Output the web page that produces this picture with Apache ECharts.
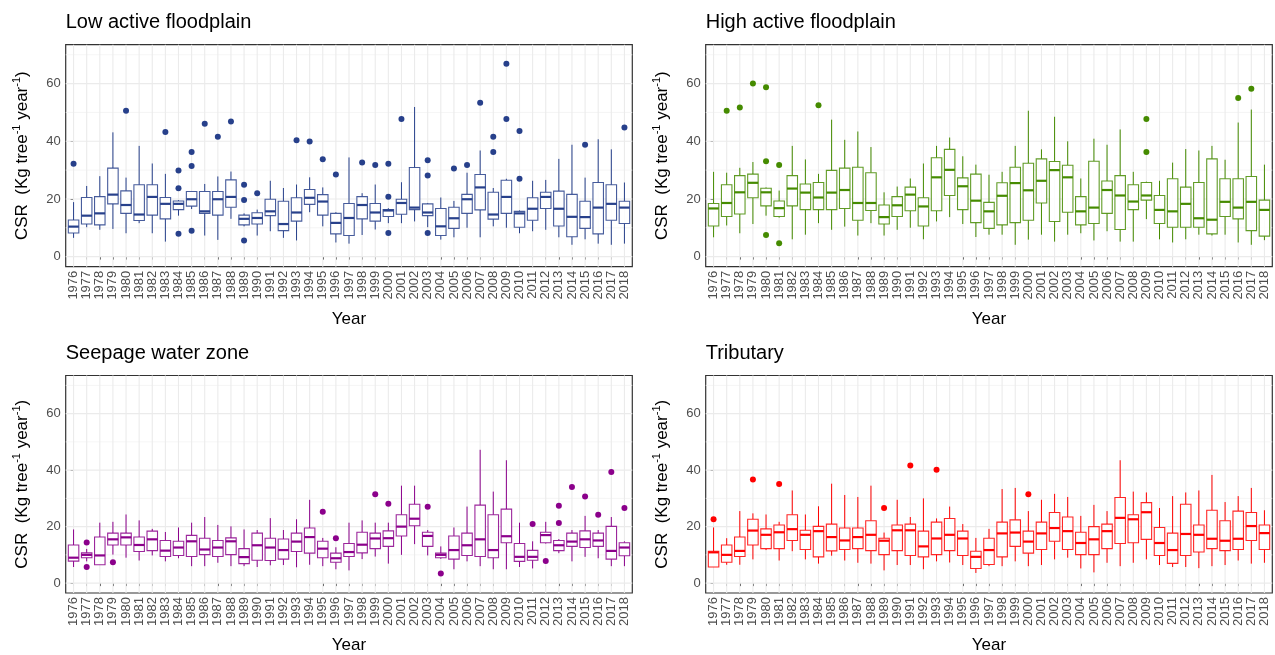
<!DOCTYPE html>
<html>
<head>
<meta charset="utf-8">
<script src="https://cdn.jsdelivr.net/npm/echarts@6/dist/echarts.min.js"></script>
<style>
  html, body { margin: 0; padding: 0; background: #ffffff; }
  #chart { width: 1275px; height: 655px; }
</style>
</head>
<body>
<div id="chart"></div>
<script>
// Survey years shown on every x axis
const years = ['1976','1977','1978','1979','1980','1981','1982','1983','1984','1985',
  '1986','1987','1988','1989','1990','1991','1992','1993','1994','1995',
  '1996','1997','1998','1999','2000','2001','2002','2003','2004','2005',
  '2006','2007','2008','2009','2010','2011','2012','2013','2014','2015',
  '2016','2017','2018'];

// y axis ticks (labelled) and minor grid values
const yMajor = [0, 20, 40, 60];
const yMinor = [10, 30, 50, 70];

// Box statistics per year: [lower whisker, Q1, median, Q3, upper whisker]
const lowActiveBoxes = [
  [6.5, 8.2, 10.4, 12.7, 18.9], [10.2, 11.3, 14.2, 20.5, 24.5], [9.3, 11.0, 15.0, 20.8, 27.9],
  [9.6, 18.3, 21.5, 30.7, 43.1], [8.1, 15.0, 17.9, 22.8, 27.4], [11.6, 12.5, 14.6, 24.9, 38.4],
  [8.1, 14.4, 20.7, 24.9, 32.3], [5.2, 13.1, 18.3, 20.5, 28.7], [14.2, 16.3, 18.3, 19.3, 19.6],
  [16.5, 17.5, 19.9, 22.6, 22.6], [7.3, 15.0, 15.7, 22.6, 25.2], [5.8, 14.4, 19.9, 22.6, 27.8],
  [13.1, 17.1, 20.7, 26.6, 29.5], [10.5, 11.0, 13.1, 14.4, 15.0], [7.3, 11.3, 13.4, 15.2, 16.3],
  [8.8, 14.2, 15.7, 19.9, 26.3], [6.5, 9.0, 11.3, 19.2, 23.8], [5.6, 12.3, 15.3, 20.4, 25.0],
  [15.4, 18.1, 20.4, 23.3, 27.5], [10.5, 14.4, 19.1, 21.5, 24.0], [4.9, 7.9, 11.7, 15.0, 15.4],
  [4.5, 7.3, 13.4, 18.4, 34.4], [7.5, 13.1, 17.9, 20.8, 22.0], [9.4, 12.3, 15.3, 18.4, 25.0],
  [11.6, 13.9, 16.0, 16.3, 16.8], [11.6, 14.7, 18.6, 19.9, 25.8], [12.2, 16.3, 17.0, 30.9, 51.9],
  [10.2, 14.2, 15.3, 18.3, 18.6], [5.9, 7.3, 10.5, 16.7, 20.5], [6.7, 9.8, 13.3, 17.1, 19.3],
  [10.0, 15.0, 19.9, 21.6, 29.1], [6.7, 16.2, 24.0, 28.5, 36.8], [10.5, 13.0, 14.6, 22.3, 23.8],
  [10.0, 15.0, 20.7, 26.5, 27.0], [8.1, 10.2, 15.0, 15.7, 16.0], [8.8, 12.6, 16.6, 20.4, 26.3],
  [9.3, 16.7, 20.7, 22.3, 26.6], [6.7, 10.6, 16.6, 22.7, 33.9], [4.1, 6.9, 13.8, 21.6, 38.8],
  [6.0, 9.8, 13.7, 19.2, 27.4], [4.5, 7.9, 17.0, 25.7, 40.7], [4.1, 12.6, 18.3, 24.9, 37.2],
  [4.5, 11.5, 17.0, 19.2, 25.7]
];
// Outliers: [year, value]
const lowActiveOutliers = [
  [1976, 32.2], [1980, 50.6], [1983, 43.2], [1984, 29.9], [1984, 23.7], [1984, 7.9],
  [1985, 36.3], [1985, 31.4], [1985, 9.0], [1986, 46.1], [1987, 41.6], [1988, 46.9],
  [1989, 24.9], [1989, 19.6], [1989, 5.6], [1990, 22.0], [1993, 40.4], [1994, 39.9],
  [1995, 33.8], [1996, 28.5], [1998, 32.6], [1999, 31.8], [2000, 32.2], [2000, 20.8],
  [2000, 8.2], [2001, 47.7], [2003, 33.4], [2003, 28.1], [2003, 8.2], [2005, 30.6],
  [2006, 31.8], [2007, 53.4], [2008, 41.6], [2008, 36.3], [2009, 66.9], [2009, 47.7],
  [2010, 43.6], [2010, 27.0], [2015, 38.8], [2018, 44.8]
];

const highActiveBoxes = [
  [6.7, 10.6, 16.7, 18.4, 29.4], [10.8, 13.9, 18.6, 24.9, 29.1], [8.1, 14.8, 22.3, 28.1, 30.8],
  [11.3, 20.4, 25.6, 28.6, 32.8], [14.2, 17.6, 22.3, 23.7, 24.0], [13.5, 13.9, 16.8, 19.3, 22.9],
  [6.0, 17.6, 23.6, 28.1, 38.4], [7.6, 16.3, 22.2, 25.2, 33.7], [11.6, 16.3, 20.5, 25.7, 28.7],
  [9.3, 16.3, 22.2, 29.9, 47.5], [10.4, 16.7, 23.1, 30.7, 40.5], [7.3, 12.6, 18.6, 31.0, 43.4],
  [11.6, 16.0, 18.6, 29.1, 38.0], [7.3, 11.3, 13.7, 17.9, 22.3], [9.3, 13.9, 17.8, 20.8, 24.3],
  [10.0, 15.9, 21.5, 24.1, 27.1], [6.0, 10.6, 17.4, 20.4, 32.3], [12.2, 15.9, 27.5, 34.3, 38.4],
  [13.7, 21.2, 30.1, 37.2, 41.3], [11.3, 16.3, 24.4, 27.3, 34.8], [6.8, 11.8, 19.4, 28.6, 31.9],
  [7.6, 9.8, 15.7, 18.8, 28.4], [7.6, 11.0, 21.1, 25.6, 29.4], [4.1, 11.8, 25.5, 31.0, 38.4],
  [5.9, 12.6, 23.0, 32.4, 50.6], [7.6, 18.6, 26.3, 33.9, 37.2], [5.2, 12.2, 30.0, 33.0, 48.5],
  [7.6, 15.4, 27.5, 31.7, 40.0], [8.1, 11.0, 15.7, 20.8, 27.1], [5.6, 11.5, 17.0, 33.1, 40.9],
  [8.8, 15.0, 23.1, 26.2, 38.8], [5.2, 9.4, 21.2, 28.1, 44.1], [5.2, 16.3, 19.1, 24.9, 29.4],
  [13.0, 19.6, 21.2, 25.7, 26.0], [6.0, 11.5, 16.2, 21.2, 26.3], [4.9, 10.2, 15.7, 27.0, 32.6],
  [6.0, 10.2, 18.3, 24.1, 37.3], [7.6, 10.2, 13.3, 25.7, 36.8], [7.3, 7.9, 12.8, 33.9, 38.4],
  [7.6, 13.9, 19.0, 27.0, 33.6], [4.9, 13.1, 17.0, 27.0, 46.5], [4.1, 9.0, 19.0, 27.8, 51.0],
  [5.7, 7.1, 16.2, 19.6, 31.9]
];
const highActiveOutliers = [
  [1977, 50.6], [1978, 51.7], [1979, 60.0], [1980, 58.7], [1980, 33.1], [1980, 7.5],
  [1981, 31.8], [1981, 4.6], [1984, 52.5], [2009, 47.7], [2009, 36.3], [2016, 55.0],
  [2017, 58.2]
];

const seepageBoxes = [
  [5.7, 7.8, 9.0, 13.5, 19.0], [7.7, 9.0, 10.0, 10.7, 12.1], [6.5, 6.5, 9.8, 16.3, 21.4],
  [10.1, 13.5, 15.5, 17.7, 21.7], [9.0, 13.5, 16.2, 17.7, 24.3], [8.0, 11.2, 13.5, 16.3, 22.2],
  [9.8, 11.5, 15.5, 18.4, 19.2], [7.7, 9.4, 11.5, 15.1, 18.1], [8.8, 9.8, 12.6, 14.8, 19.7],
  [6.0, 9.4, 14.8, 16.9, 21.4], [6.0, 10.1, 11.9, 15.9, 23.4], [7.2, 9.4, 12.6, 15.1, 20.6],
  [6.0, 10.1, 14.8, 16.0, 20.1], [6.0, 6.9, 9.2, 12.2, 19.0], [5.7, 8.1, 13.4, 17.7, 18.8],
  [6.3, 8.0, 12.6, 15.9, 23.0], [6.4, 8.5, 11.7, 15.6, 18.8], [5.6, 11.2, 14.7, 17.7, 22.6],
  [6.5, 10.6, 16.3, 19.5, 29.5], [6.0, 9.0, 12.2, 14.8, 16.0], [4.9, 7.4, 8.8, 10.6, 12.7],
  [4.5, 9.4, 11.0, 14.0, 21.4], [8.5, 10.7, 13.6, 18.0, 22.2], [9.4, 12.2, 15.8, 17.7, 21.4],
  [6.9, 13.0, 15.9, 18.5, 21.4], [10.0, 16.7, 20.0, 24.2, 34.5], [13.8, 20.3, 22.8, 27.9, 34.5],
  [9.8, 13.0, 16.7, 18.0, 18.8], [8.6, 9.0, 10.0, 10.6, 13.0], [4.9, 8.5, 11.7, 16.7, 19.7],
  [7.7, 9.8, 13.4, 17.7, 27.1], [6.0, 9.4, 15.5, 27.6, 47.2], [4.9, 9.0, 11.7, 24.2, 32.4],
  [4.9, 14.3, 16.6, 26.2, 43.5], [5.7, 7.7, 9.3, 14.0, 21.4], [5.2, 8.1, 9.3, 11.6, 14.8],
  [14.0, 14.3, 17.0, 18.0, 21.7], [10.6, 11.5, 13.4, 15.1, 15.6], [7.7, 13.0, 14.7, 17.7, 18.8],
  [9.3, 12.6, 15.5, 18.5, 23.8], [8.8, 13.0, 15.1, 17.7, 18.8], [6.0, 8.5, 11.4, 20.1, 23.4],
  [6.0, 9.7, 12.6, 14.3, 14.8]
];
const seepageOutliers = [
  [1977, 14.4], [1977, 5.7], [1979, 7.4], [1995, 25.3], [1996, 15.9], [1999, 31.5],
  [2000, 28.1], [2003, 27.0], [2004, 3.4], [2011, 20.9], [2012, 7.8], [2013, 27.4],
  [2013, 21.3], [2014, 34.0], [2015, 30.7], [2016, 24.2], [2017, 39.3], [2018, 26.6]
];

const tributaryBoxes = [
  [5.7, 5.7, 10.9, 11.3, 19.7], [6.5, 7.4, 10.0, 13.5, 15.9], [6.5, 9.4, 11.4, 16.3, 25.5],
  [8.4, 13.5, 18.6, 22.6, 24.7], [11.7, 12.2, 17.1, 19.2, 24.3], [8.0, 12.2, 18.0, 20.6, 21.7],
  [11.3, 15.1, 19.1, 24.2, 32.8], [8.4, 11.9, 17.1, 18.7, 24.3], [6.9, 9.3, 18.4, 20.1, 27.2],
  [9.7, 11.4, 16.3, 20.9, 35.2], [8.0, 11.9, 15.1, 19.5, 31.2], [7.2, 12.2, 16.3, 19.5, 30.5],
  [6.9, 11.5, 17.1, 22.1, 34.5], [4.5, 10.1, 15.0, 15.9, 17.9], [6.4, 11.5, 18.7, 20.6, 29.5],
  [6.4, 9.8, 18.7, 20.9, 23.4], [4.9, 9.3, 13.0, 18.4, 30.0], [7.7, 10.1, 15.8, 21.6, 22.9],
  [7.3, 11.5, 17.1, 22.9, 27.1], [6.4, 9.8, 15.8, 18.4, 20.9], [3.6, 5.2, 9.3, 11.3, 16.0],
  [6.0, 6.6, 11.7, 15.9, 19.2], [6.0, 9.3, 17.6, 21.6, 33.3], [7.7, 13.0, 17.9, 22.4, 33.7],
  [6.0, 10.6, 14.7, 18.4, 25.5], [6.4, 11.9, 17.6, 21.6, 29.5], [8.4, 14.8, 19.5, 25.0, 31.6],
  [9.0, 11.9, 18.4, 23.4, 30.5], [5.2, 10.1, 14.2, 18.0, 23.8], [3.8, 10.1, 15.5, 20.0, 27.7],
  [7.2, 12.2, 18.4, 20.9, 25.5], [6.0, 14.0, 23.1, 30.3, 43.5], [7.2, 14.3, 22.6, 24.2, 32.4],
  [8.4, 15.5, 25.1, 28.5, 32.1], [6.4, 9.8, 14.2, 19.7, 26.6], [5.7, 7.0, 11.7, 17.7, 30.8],
  [5.7, 9.8, 17.4, 27.9, 32.1], [5.3, 11.0, 17.1, 20.6, 32.8], [6.0, 12.2, 15.7, 25.8, 38.3],
  [6.4, 11.5, 15.0, 22.1, 28.7], [8.0, 11.9, 15.7, 25.5, 30.8], [6.9, 15.1, 20.2, 25.0, 33.7],
  [7.2, 11.9, 17.7, 20.6, 25.8]
];
const tributaryOutliers = [
  [1976, 22.6], [1979, 36.7], [1981, 35.1], [1989, 26.6], [1991, 41.6], [1993, 40.1],
  [2000, 31.5]
];

// Panel layout: one facet per zone
const panels = [
  { title: 'Low active floodplain', boxes: lowActiveBoxes, outliers: lowActiveOutliers, color: '#27408B', left: 65.7, top: 44.7 },
  { title: 'High active floodplain', boxes: highActiveBoxes, outliers: highActiveOutliers, color: '#458B00', left: 705.7, top: 44.7 },
  { title: 'Seepage water zone', boxes: seepageBoxes, outliers: seepageOutliers, color: '#8B008B', left: 65.7, top: 375.5 },
  { title: 'Tributary', boxes: tributaryBoxes, outliers: tributaryOutliers, color: '#FF0000', left: 705.7, top: 375.5 }
];

const PANEL_W = 566.6;
const PANEL_H = 222;
const FONT = 'Arial, "Liberation Sans", Helvetica, sans-serif';
const yearIdx = years.map((y, i) => i);

// Background grid: horizontal major/minor lines and a vertical line per year
function renderGrid(params, api) {
  const cs = params.coordSys;
  const kind = api.value(2);
  if (kind === 2) {
    const x = api.coord([api.value(0), 0])[0];
    return { type: 'line', silent: true,
      shape: { x1: x, y1: cs.y, x2: x, y2: cs.y + cs.height },
      style: { stroke: '#EBEBEB', lineWidth: 1.1 } };
  }
  const y = api.coord([0, api.value(1)])[1];
  return { type: 'line', silent: true,
    shape: { x1: cs.x, y1: y, x2: cs.x + cs.width, y2: y },
    style: { stroke: kind === 0 ? '#EBEBEB' : '#F2F2F2', lineWidth: kind === 0 ? 1.1 : 0.8 } };
}

// Box with whiskers and a thick median bar
function makeBoxRenderer(color) {
  return function (params, api) {
    const i = api.value(0);
    const lo = api.coord([i, api.value(1)]);
    const q1 = api.coord([i, api.value(2)]);
    const md = api.coord([i, api.value(3)]);
    const q3 = api.coord([i, api.value(4)]);
    const hi = api.coord([i, api.value(5)]);
    const w = api.size([0.8, 0])[0];
    const x = md[0];
    return {
      type: 'group',
      children: [
        { type: 'line', shape: { x1: x, y1: hi[1], x2: x, y2: q3[1] }, style: { stroke: color, lineWidth: 1 } },
        { type: 'line', shape: { x1: x, y1: q1[1], x2: x, y2: lo[1] }, style: { stroke: color, lineWidth: 1 } },
        { type: 'rect', shape: { x: x - w / 2, y: q3[1], width: w, height: q1[1] - q3[1] },
          style: { fill: '#FFFFFF', stroke: color, lineWidth: 1.1, opacity: 0.85 } },
        { type: 'line', shape: { x1: x - w / 2, y1: md[1], x2: x + w / 2, y2: md[1] }, style: { stroke: color, lineWidth: 2.2 } }
      ]
    };
  };
}

const option = {
  animation: false,
  backgroundColor: '#FFFFFF',
  title: [],
  grid: [],
  xAxis: [],
  yAxis: [],
  series: []
};

const gridData = [];
yMajor.forEach(v => gridData.push([0, v, 0]));
yMinor.forEach(v => gridData.push([0, v, 1]));
yearIdx.forEach(i => gridData.push([i, 0, 2]));

panels.forEach((p, k) => {
  option.title.push({
    text: p.title, left: p.left, top: p.top - 32, padding: 0,
    textStyle: { fontSize: 20, fontWeight: 'normal', color: '#000000', fontFamily: FONT }
  });
  option.grid.push({
    left: p.left, top: p.top, width: PANEL_W, height: PANEL_H,
    show: true, backgroundColor: '#FFFFFF', borderColor: '#333333', borderWidth: 1.2,
    containLabel: false
  });
  option.xAxis.push({
    type: 'value', gridIndex: k, min: -0.6, max: 42.6,
    axisLine: { show: false },
    splitLine: { show: false },
    axisTick: { show: true, customValues: yearIdx, length: 3, lineStyle: { color: '#333333', width: 1 } },
    axisLabel: {
      customValues: yearIdx, rotate: 90, margin: 4, fontSize: 13, color: '#4D4D4D', fontFamily: FONT,
      formatter: v => years[Math.round(v)]
    },
    name: 'Year', nameLocation: 'middle', nameGap: 44,
    nameTextStyle: { fontSize: 17, color: '#000000', fontFamily: FONT }
  });
  option.yAxis.push({
    type: 'value', gridIndex: k, min: -3.5, max: 73.5,
    axisLine: { show: false },
    splitLine: { show: false },
    axisTick: { show: true, customValues: yMajor, length: 3, lineStyle: { color: '#333333', width: 1 } },
    axisLabel: { customValues: yMajor, margin: 5, fontSize: 13, color: '#4D4D4D', fontFamily: FONT },
    name: '{n|CSR  (Kg tree}{s|-1}{n| year}{s|-1}{n|)}',
    nameLocation: 'middle', nameGap: 32,
    nameTextStyle: {
      color: '#000000', fontFamily: FONT,
      rich: {
        n: { fontSize: 17, lineHeight: 22, color: '#000000', fontFamily: FONT, verticalAlign: 'middle' },
        s: { fontSize: 11, lineHeight: 11, color: '#000000', fontFamily: FONT, verticalAlign: 'top' }
      }
    }
  });
  option.series.push({
    type: 'custom', xAxisIndex: k, yAxisIndex: k, z: 1, silent: true,
    renderItem: renderGrid, encode: { x: 0, y: 1 }, data: gridData
  });
  option.series.push({
    type: 'custom', xAxisIndex: k, yAxisIndex: k, z: 2, silent: true,
    renderItem: makeBoxRenderer(p.color), encode: { x: 0, y: [1, 2, 3, 4, 5] },
    data: p.boxes.map((b, i) => [i].concat(b))
  });
  option.series.push({
    type: 'scatter', xAxisIndex: k, yAxisIndex: k, z: 3, silent: true,
    symbol: 'circle', symbolSize: 6, itemStyle: { color: p.color, opacity: 1 },
    data: p.outliers.map(o => [years.indexOf(String(o[0])), o[1]])
  });
});

const chart = echarts.init(document.getElementById('chart'), null, { renderer: 'canvas' });
chart.setOption(option);
</script>
</body>
</html>
